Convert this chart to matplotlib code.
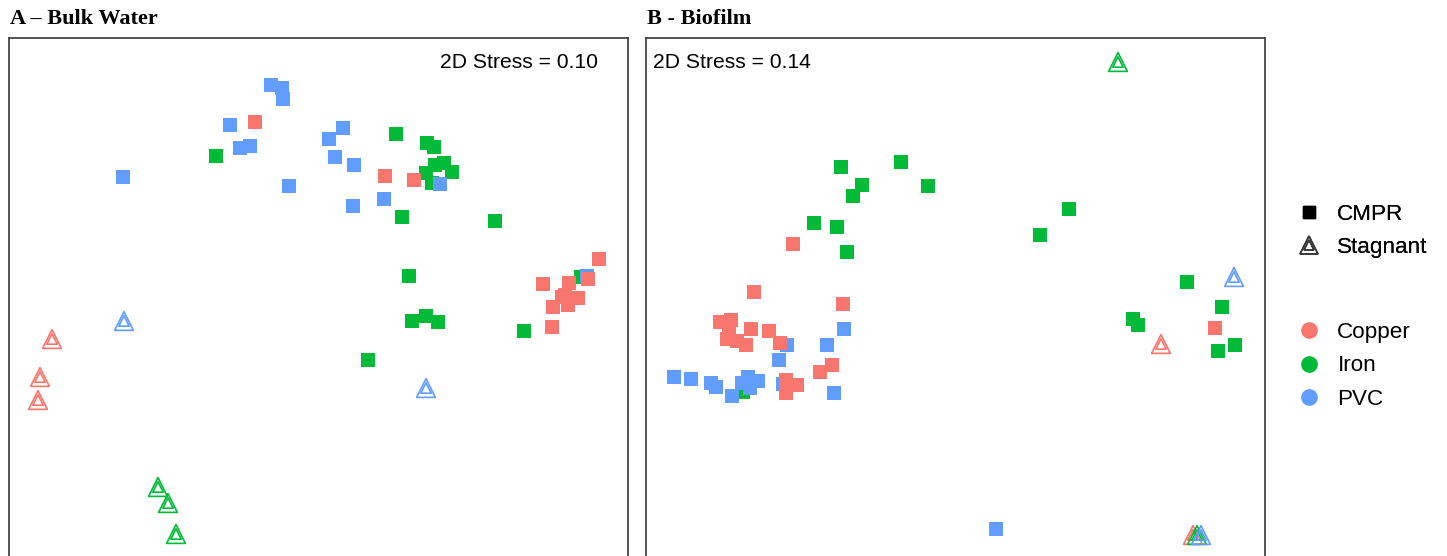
import matplotlib.pyplot as plt
from matplotlib.lines import Line2D
from matplotlib.legend_handler import HandlerTuple

plt.rcParams['font.family'] = ['Liberation Sans', 'DejaVu Sans']

# colours (ggplot defaults)
cols = {"Copper": "#F8766D", "Iron": "#00BA38", "PVC": "#619CFF"}

# ---- A - Bulk Water (y grows downwards) ----
a_cmpr_copper_x = [255, 385, 414, 599, 588, 543, 569, 562, 572, 578, 553, 568, 565, 552]
a_cmpr_copper_y = [122, 176, 180, 259, 279, 284, 283, 297, 298, 298, 307, 305, 295, 327]
a_cmpr_iron_x = [216, 396, 427, 434, 435, 444, 452, 426, 432, 402, 495, 409, 581, 412, 426, 438, 368, 524]
a_cmpr_iron_y = [156, 134, 143, 147, 165, 163, 172, 173, 183, 217, 221, 276, 277, 321, 316, 322, 360, 331]
a_cmpr_pvc_x = [271, 282, 283, 230, 240, 250, 123, 343, 329, 335, 354, 289, 353, 440, 384, 587]
a_cmpr_pvc_y = [85, 88, 99, 125, 148, 146, 177, 128, 139, 157, 165, 186, 206, 184, 199, 276]
a_stag_copper_x = [52, 40, 38]
a_stag_copper_y = [339, 377, 400]
a_stag_iron_x = [158, 168, 176]
a_stag_iron_y = [487, 503, 534]
a_stag_pvc_x = [124, 426]
a_stag_pvc_y = [321, 388]

# ---- B - Biofilm ----
b_cmpr_copper_x = [793, 754, 843, 720, 731, 729, 751, 727, 737, 746, 769, 780, 832, 820, 786, 797, 786, 1215]
b_cmpr_copper_y = [244, 292, 304, 322, 320, 330, 329, 339, 341, 345, 331, 343, 365, 372, 380, 385, 393, 328]
b_cmpr_iron_x = [841, 901, 862, 853, 928, 1069, 1040, 814, 837, 847, 1187, 1222, 1133, 1138, 1235, 1218, 743]
b_cmpr_iron_y = [167, 162, 185, 196, 186, 209, 235, 223, 227, 252, 282, 307, 319, 325, 345, 351, 392]
b_cmpr_pvc_x = [844, 787, 827, 779, 674, 691, 711, 716, 748, 742, 758, 750, 732, 783, 834, 996]
b_cmpr_pvc_y = [329, 345, 345, 360, 377, 379, 383, 387, 377, 383, 381, 388, 396, 384, 393, 529]
b_stag_copper_x = [1161, 1193]
b_stag_copper_y = [344, 535]
b_stag_iron_x = [1118, 1197]
b_stag_iron_y = [62, 535]
b_stag_pvc_x = [1234, 1201]
b_stag_pvc_y = [277, 535]

panels = [
    dict(title="A \u2013 Bulk Water", stress="2D Stress = 0.10", xlim=(9, 628), box=(9, 628),
         cmpr={"Iron": (a_cmpr_iron_x, a_cmpr_iron_y), "PVC": (a_cmpr_pvc_x, a_cmpr_pvc_y),
               "Copper": (a_cmpr_copper_x, a_cmpr_copper_y)},
         stag={"Copper": (a_stag_copper_x, a_stag_copper_y), "Iron": (a_stag_iron_x, a_stag_iron_y),
               "PVC": (a_stag_pvc_x, a_stag_pvc_y)}),
    dict(title="B - Biofilm", stress="2D Stress = 0.14", xlim=(646, 1265), box=(646, 1265),
         cmpr={"Iron": (b_cmpr_iron_x, b_cmpr_iron_y), "PVC": (b_cmpr_pvc_x, b_cmpr_pvc_y),
               "Copper": (b_cmpr_copper_x, b_cmpr_copper_y)},
         stag={"Copper": (b_stag_copper_x, b_stag_copper_y), "Iron": (b_stag_iron_x, b_stag_iron_y),
               "PVC": (b_stag_pvc_x, b_stag_pvc_y)}),
]

W, H = 1447, 556
fig = plt.figure(figsize=(W / 100, H / 100), dpi=100)

top, bottom = 38, 561
for i, p in enumerate(panels):
    x0, x1 = p["box"]
    ax = fig.add_axes([x0 / W, 1 - bottom / H, (x1 - x0) / W, (bottom - top) / H])
    ax.set_xlim(*p["xlim"])
    ax.set_ylim(bottom, top)
    ax.set_xticks([])
    ax.set_yticks([])
    for s in ax.spines.values():
        s.set_color("#444444")
        s.set_linewidth(1.3)

    for mat, (xs, ys) in p["cmpr"].items():
        ax.scatter(xs, ys, marker="s", s=10.5 ** 2, color=cols[mat], linewidths=0, zorder=2)
    for mat, (xs, ys) in p["stag"].items():
        ax.scatter(xs, ys, marker="^", s=13.5 ** 2, facecolors="none", edgecolors=cols[mat],
                   linewidths=1.2, zorder=3)
        ax.scatter(xs, ys, marker="^", s=7.5 ** 2, facecolors="none", edgecolors=cols[mat],
                   linewidths=1.2, zorder=3)

    if i == 0:
        ax.text(0.952, 0.953, p["stress"], transform=ax.transAxes, ha="right", va="center", fontsize=15.2)
    else:
        ax.text(0.011, 0.953, p["stress"], transform=ax.transAxes, ha="left", va="center", fontsize=15.2)

    fig.text((x0 + 1) / W, 1 - 19 / H, p["title"], ha="left", va="center", fontsize=16,
             fontweight="bold", family="Liberation Serif")

# legends
sq = Line2D([], [], marker="s", ls="none", color="black", markersize=9)
tri_o = Line2D([], [], marker="^", ls="none", markerfacecolor="none", markeredgecolor="#333333",
               markeredgewidth=1.1, markersize=13)
tri_i = Line2D([], [], marker="^", ls="none", markerfacecolor="none", markeredgecolor="#333333",
               markeredgewidth=1.1, markersize=7)
leg1 = fig.legend([sq, (tri_o, tri_i)], ["CMPR", "Stagnant"], loc="upper left",
                  bbox_to_anchor=(1298 / W, 1 - 204 / H), frameon=False, fontsize=16.2,
                  handler_map={tuple: HandlerTuple(ndivide=1)}, handlelength=1.0,
                  handletextpad=0.75, labelspacing=0.55, borderpad=0, borderaxespad=0)
fig.add_artist(leg1)
mats = ["Copper", "Iron", "PVC"]
circ = [Line2D([], [], marker="o", ls="none", color=cols[m], markersize=11) for m in mats]
fig.legend(circ, mats, loc="upper left", bbox_to_anchor=(1298 / W, 1 - 322 / H), frameon=False,
           fontsize=16.2, handlelength=1.0, handletextpad=0.75, labelspacing=0.55, borderpad=0,
           borderaxespad=0)

fig.savefig("out.png", dpi=100)
